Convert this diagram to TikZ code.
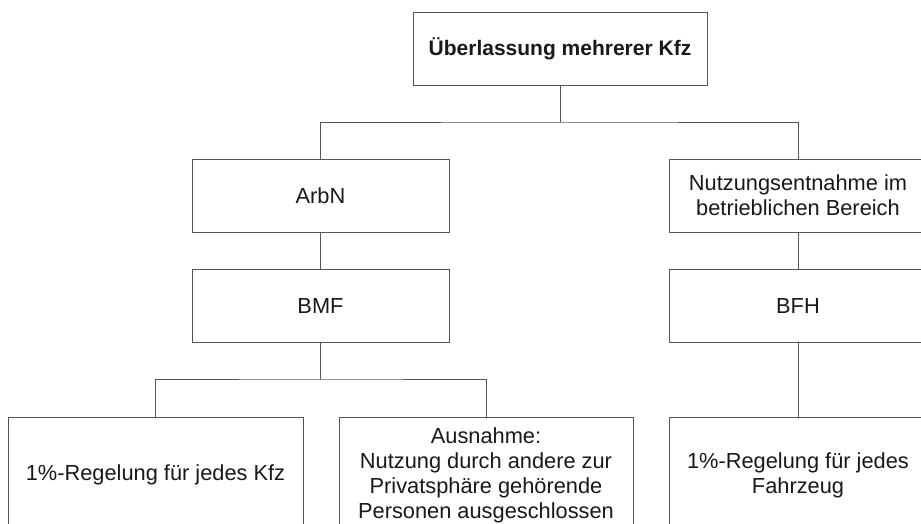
\documentclass[tikz,border=0pt]{standalone}
\usepackage{fontspec}
\setmainfont{Liberation Sans}
\usetikzlibrary{positioning,calc}
\definecolor{orgline}{RGB}{85,85,85}
\definecolor{orgtext}{RGB}{25,25,25}
\tikzset{
  orgbox/.style={draw=orgline, line width=0.9pt, fill=white, inner sep=0pt,
    minimum width=257pt, minimum height=73pt, align=center, text=orgtext,
    font=\fontsize{21.8}{25}\selectfont},
  leafbox/.style={orgbox, minimum height=116pt},
  orgwire/.style={draw=orgline, line width=0.9pt}
}

\begin{document}
\begin{tikzpicture}[x=1pt,y=-1pt]
\clip (0,0) rectangle (921,523);
\fill[white] (0,0) rectangle (921,523);
% levels of the chart
\node[orgbox, minimum width=294pt, font=\fontsize{21}{25}\selectfont\bfseries] (top) at (560,48.5) {Überlassung mehrerer Kfz};
\node[orgbox] (arbn) at (320.5,195.5) {ArbN};
\node[orgbox] (entnahme) at (798,195.5) {Nutzungsentnahme im\\betrieblichen Bereich};
\node[orgbox] (bmf) at (320.5,305.5) {BMF};
\node[orgbox] (bfh) at (798,305.5) {BFH};
\node[leafbox, minimum width=295pt] (jedeskfz) at (155.5,475) {1\%-Regelung für jedes Kfz};
\node[leafbox, minimum width=294pt] (ausnahme) at (486,475) {Ausnahme:\\Nutzung durch andere zur\\Privatsphäre gehörende\\Personen ausgeschlossen};
\node[leafbox] (fahrzeug) at (798,475) {1\%-Regelung für jedes\\Fahrzeug};
% connectors
\coordinate (splittop) at (560,122);
\coordinate (splitbmf) at (320.5,379);
\draw[orgwire] (top.south) -- (splittop);
\draw[orgwire] (arbn.north) |- (splittop) -| (entnahme.north);
\draw[orgwire] (arbn) -- (bmf);
\draw[orgwire] (entnahme) -- (bfh);
\draw[orgwire] (bmf.south) -- (splitbmf);
\draw[orgwire] (jedeskfz.north) |- (splitbmf) -| (ausnahme.north);
\draw[orgwire] (bfh) -- (fahrzeug);
\end{tikzpicture}
\end{document}
